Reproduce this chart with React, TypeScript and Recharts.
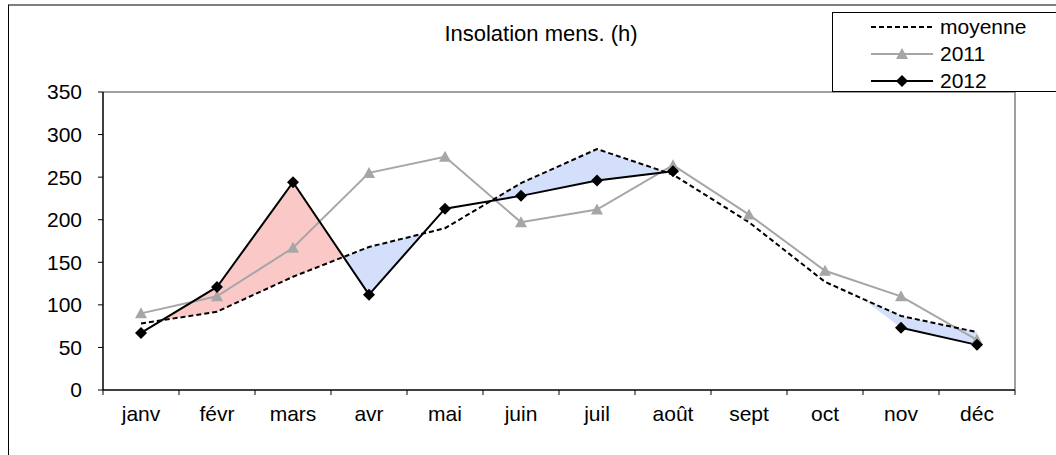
import React from 'react';
import { ComposedChart, Line, Area, XAxis, YAxis, ReferenceLine } from 'recharts';

const months = ['janv', 'févr', 'mars', 'avr', 'mai', 'juin', 'juil', 'août', 'sept', 'oct', 'nov', 'déc'];
const moyenne = [78, 92, 133, 168, 190, 243, 283, 253, 197, 127, 87, 68];
const an2011 = [90, 110, 167, 255, 274, 197, 212, 264, 206, 140, 110, 59];
const an2012: (number | null)[] = [67, 121, 244, 112, 213, 228, 246, 257, null, null, 73, 53];
// months where the gap 2012 / moyenne is shaded (+ above, - below)
const shaded = ['', '+', '+', '-', '', '-', '-', '', '', '', '-', '-'];
const yTicks = [0, 50, 100, 150, 200, 250, 300, 350];

const W = 1056;
const H = 455;
const margin = { top: 92, right: 41, bottom: 35, left: 53 };
const yAxisW = 50;
const band = (W - margin.left - margin.right - yAxisW) / 12;
const font = '"Liberation Sans", Arial, sans-serif';
const fs = 21;

const GRAY = '#a6a6a6';
const RED = '#ec241c';
const BLUE = '#4f7fef';

const seriesData = (vals: (number | null)[]) => vals.map((v, i) => ({ x: i + 0.5, v }));

// point where 2012 crosses moyenne between month i and i+1
const crossing = (i: number) => {
  const d0 = (an2012[i] as number) - moyenne[i];
  const d1 = (an2012[i + 1] as number) - moyenne[i + 1];
  const t = d0 / (d0 - d1);
  const v = moyenne[i] + t * (moyenne[i + 1] - moyenne[i]);
  return { x: i + 0.5 + t, band: [v, v] };
};

const buildRuns = () => {
  const runs: { sign: string; pts: { x: number; band: number[] }[] }[] = [];
  let i = 0;
  while (i < 12) {
    if (!shaded[i]) { i++; continue; }
    const sign = shaded[i];
    let j = i;
    while (j + 1 < 12 && shaded[j + 1] === sign) j++;
    const pts: { x: number; band: number[] }[] = [];
    if (i > 0) {
      if (an2012[i - 1] != null) pts.push(crossing(i - 1));
      else {
        const v = (moyenne[i - 1] + moyenne[i]) / 2;
        pts.push({ x: i, band: [v, v] });
      }
    }
    for (let k = i; k <= j; k++) {
      const a = an2012[k] as number;
      pts.push({ x: k + 0.5, band: [Math.min(a, moyenne[k]), Math.max(a, moyenne[k])] });
    }
    if (j < 11 && an2012[j + 1] != null) pts.push(crossing(j));
    runs.push({ sign, pts });
    i = j + 1;
  }
  return runs;
};

const Triangle = (props: any) => {
  const { cx, cy } = props;
  if (cx == null || cy == null) return null;
  return <polygon points={`${cx},${cy - 6} ${cx + 6},${cy + 5} ${cx - 6},${cy + 5}`} fill={GRAY} />;
};

const Diamond = (props: any) => {
  const { cx, cy, payload } = props;
  if (cx == null || cy == null || payload?.v == null) return null;
  return <polygon points={`${cx},${cy - 6} ${cx + 6},${cy} ${cx},${cy + 6} ${cx - 6},${cy}`} fill="#000" />;
};

const MonthTick = (props: any) => {
  const { x, y, payload } = props;
  const i = payload.value;
  if (i >= 12) return null;
  return (
    <text x={x + band / 2} y={y + 16} textAnchor="middle" dominantBaseline="central" fontSize={fs} fontFamily={font} fill="#000">
      {months[i]}
    </text>
  );
};

const LegendRow = ({ kind, label }: { kind: string; label: string }) => (
  <div style={{ display: 'flex', alignItems: 'center', height: 27 }}>
    <svg width={66} height={14} style={{ marginRight: 3 }}>
      {kind === 'moy' && <line x1={0} y1={7} x2={62} y2={7} stroke="#000" strokeWidth={2} strokeDasharray="5 3" />}
      {kind === '2011' && (
        <g>
          <line x1={0} y1={7} x2={62} y2={7} stroke={GRAY} strokeWidth={2} />
          <polygon points="31,1 37,12 25,12" fill={GRAY} />
        </g>
      )}
      {kind === '2012' && (
        <g>
          <line x1={0} y1={7} x2={62} y2={7} stroke="#000" strokeWidth={2} />
          <polygon points="31,1 37,7 31,13 25,7" fill="#000" />
        </g>
      )}
    </svg>
    <span>{label}</span>
  </div>
);

export default function App() {
  const runs = buildRuns();
  return (
    <div style={{ position: 'fixed', left: 0, top: 0, width: W, height: H, background: '#fff', overflow: 'hidden', fontFamily: font }}>
      <div style={{ position: 'absolute', left: 8, top: 4, width: W, height: H, borderTop: '2px solid #7f7f7f', borderLeft: '1px solid #000' }} />
      <div style={{ position: 'absolute', left: 41, top: 21, width: 1000, textAlign: 'center', fontSize: 22, color: '#000' }}>
        Insolation mens. (h)
      </div>
      <div style={{ position: 'absolute', left: 0, top: 0 }}>
        <ComposedChart width={W} height={H} margin={margin}>
          <XAxis
            dataKey="x"
            type="number"
            domain={[0, 12]}
            ticks={[0, 1, 2, 3, 4, 5, 6, 7, 8, 9, 10, 11, 12]}
            interval={0}
            height={30}
            axisLine={{ stroke: '#000', strokeWidth: 1.5 }}
            tickLine={{ stroke: '#000' }}
            tickSize={5}
            tick={<MonthTick />}
            allowDataOverflow
          />
          <YAxis
            domain={[0, 350]}
            ticks={yTicks}
            width={yAxisW}
            axisLine={{ stroke: '#000', strokeWidth: 1.5 }}
            tickLine={{ stroke: '#000' }}
            tickSize={5}
            tickMargin={16}
            tick={{ fontSize: fs, fill: '#000', fontFamily: font }}
          />
          <ReferenceLine y={350} stroke="#7f7f7f" strokeWidth={1.5} />
          <ReferenceLine x={12} stroke="#7f7f7f" strokeWidth={1.5} />
          <Line data={seriesData(an2011)} dataKey="v" stroke={GRAY} strokeWidth={2} dot={<Triangle />} activeDot={false} isAnimationActive={false} />
          {runs.map((r, k) => (
            <Area
              key={k}
              data={r.pts}
              dataKey="band"
              type="linear"
              stroke="none"
              fill={r.sign === '+' ? RED : BLUE}
              fillOpacity={0.25}
              isAnimationActive={false}
            />
          ))}
          <Line data={seriesData(moyenne)} dataKey="v" stroke="#000" strokeWidth={2} strokeDasharray="5 3" dot={false} activeDot={false} isAnimationActive={false} />
          <Line data={seriesData(an2012)} dataKey="v" stroke="#000" strokeWidth={2} dot={<Diamond />} activeDot={false} isAnimationActive={false} />
        </ComposedChart>
      </div>
      <div style={{ position: 'absolute', left: 832, top: 12, width: 240, height: 80, border: '1px solid #000', background: '#fff', fontSize: fs, boxSizing: 'border-box', paddingLeft: 38, paddingTop: 0 }}>
        <LegendRow kind="moy" label="moyenne" />
        <LegendRow kind="2011" label="2011" />
        <LegendRow kind="2012" label="2012" />
      </div>
    </div>
  );
}
